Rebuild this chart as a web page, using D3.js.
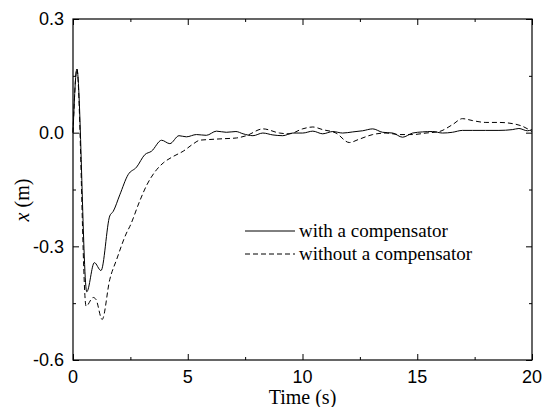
<!DOCTYPE html>
<html>
<head>
<meta charset="utf-8">
<title>x(t) with and without compensator</title>
<script src="https://cdn.jsdelivr.net/npm/d3@7"></script>
<style>
  body { margin: 0; background: #fff; }
  .tick-label { font-family: "Liberation Sans", Arial, sans-serif; font-size: 18px; fill: #000; }
  .title { font-family: "Liberation Serif", "Times New Roman", serif; font-size: 20px; fill: #000; }
  .legend { font-family: "Liberation Serif", "Times New Roman", serif; font-size: 19px; fill: #000; }
</style>
</head>
<body>
<svg id="chart" width="553" height="407"></svg>
<script>
// time (s) and x (m)
var tWith = [0, 0.17, 0.6, 0.93, 1.22, 1.6, 1.75, 2.04, 2.4, 2.77, 3.13, 3.42, 3.86, 4.22, 4.62, 4.94, 5.38, 5.81, 6.25, 6.68, 7.1, 7.41, 7.84, 8.27, 8.71, 9.14, 9.58, 10.01, 10.45, 10.88, 11.32, 11.75, 12.19, 12.62, 13.06, 13.49, 13.93, 14.36, 14.8, 15.23, 15.67, 16.1, 16.53, 16.97, 17.4, 17.98, 18.56, 19.14, 19.43, 19.8, 20];
var xWith = [0, 0.168, -0.42, -0.343, -0.364, -0.22, -0.208, -0.164, -0.111, -0.091, -0.058, -0.049, -0.020, -0.029, -0.008, -0.011, -0.005, -0.007, 0.004, 0.001, 0.003, -0.003, -0.008, -0.001, -0.006, -0.008, -0.001, -0.001, 0.004, -0.003, 0.003, -0.001, 0.002, 0.005, 0.010, 0.001, -0.001, -0.012, -0.001, 0.002, 0.003, -0.001, 0.001, 0.006, 0.006, 0.006, 0.006, 0.008, 0.011, 0.005, 0.008];

var tWithout = [0, 0.17, 0.57, 0.88, 1.0, 1.27, 1.6, 1.9, 2.33, 2.48, 2.91, 3.2, 3.64, 3.93, 4.36, 4.8, 5.23, 5.52, 5.96, 6.54, 7.12, 7.55, 8.28, 9.0, 9.43, 10.0, 10.45, 10.88, 11.46, 12.04, 12.48, 13.06, 13.64, 14.22, 14.8, 15.38, 15.96, 16.53, 16.97, 17.4, 17.99, 18.57, 19.14, 19.58, 20];
var xWithout = [0, 0.168, -0.458, -0.435, -0.44, -0.493, -0.388, -0.335, -0.265, -0.247, -0.18, -0.14, -0.098, -0.080, -0.063, -0.049, -0.030, -0.020, -0.018, -0.016, -0.014, -0.008, 0.010, -0.001, -0.003, 0.010, 0.015, 0.008, -0.001, -0.026, -0.017, -0.005, -0.001, -0.005, -0.005, -0.001, 0.003, 0.021, 0.037, 0.032, 0.027, 0.027, 0.024, 0.017, 0.003];

var xTicks = [0, 5, 10, 15, 20];
var xMinor = [2.5, 7.5, 12.5, 17.5];
var yTicks = [-0.6, -0.3, 0.0, 0.3];
var yMinor = [-0.45, -0.15, 0.15];
var seriesNames = ["with a compensator", "without a compensator"];

var plotL = 73, plotR = 532, plotT = 19, plotB = 360;

var svg = d3.select("#chart");

var x = d3.scaleLinear().domain([0, 20]).range([plotL, plotR]);
var y = d3.scaleLinear().domain([-0.6, 0.3]).range([plotB, plotT]);

function styleAxis(g) {
  g.select(".domain").remove();
  g.selectAll("line").attr("stroke", "#000").attr("stroke-width", 1);
}

// ticks point inward on all four sides, major and minor
function addTicks(major, minor, len) {
  var vals = major ? [xTicks, yTicks] : [xMinor, yMinor];
  svg.append("g").attr("transform", "translate(0," + plotB + ")")
     .call(d3.axisBottom(x).tickValues(vals[0]).tickSize(-len).tickFormat("")).call(styleAxis);
  svg.append("g").attr("transform", "translate(0," + plotT + ")")
     .call(d3.axisTop(x).tickValues(vals[0]).tickSize(-len).tickFormat("")).call(styleAxis);
  svg.append("g").attr("transform", "translate(" + plotL + ",0)")
     .call(d3.axisLeft(y).tickValues(vals[1]).tickSize(-len).tickFormat("")).call(styleAxis);
  svg.append("g").attr("transform", "translate(" + plotR + ",0)")
     .call(d3.axisRight(y).tickValues(vals[1]).tickSize(-len).tickFormat("")).call(styleAxis);
}
addTicks(true, false, 6);
addTicks(false, true, 3);

// frame
svg.append("rect")
   .attr("x", plotL).attr("y", plotT)
   .attr("width", plotR - plotL).attr("height", plotB - plotT)
   .attr("fill", "none").attr("stroke", "#000").attr("stroke-width", 1.2);

// tick labels
svg.selectAll(".xl").data(xTicks).enter().append("text")
   .attr("class", "tick-label")
   .attr("x", function(d) { return x(d); })
   .attr("y", 383)
   .attr("text-anchor", "middle")
   .text(function(d) { return d; });

svg.selectAll(".yl").data(yTicks).enter().append("text")
   .attr("class", "tick-label")
   .attr("x", 64)
   .attr("y", function(d) { return y(d); })
   .attr("dy", "0.35em")
   .attr("text-anchor", "end")
   .text(function(d) { return d3.format(".1f")(d).replace("\u2212", "-"); });

// axis titles
svg.append("text").attr("class", "title")
   .attr("x", (plotL + plotR) / 2).attr("y", 404)
   .attr("text-anchor", "middle")
   .text("Time (s)");

var yt = svg.append("text").attr("class", "title")
   .attr("transform", "translate(29,200) rotate(-90)")
   .attr("text-anchor", "middle");
yt.append("tspan").attr("font-style", "italic").text("x");
yt.append("tspan").text(" (m)");

// curves
var lineWith = d3.line()
   .x(function(d, i) { return x(tWith[i]); })
   .y(function(d) { return y(d); })
   .curve(d3.curveMonotoneX);
var lineWithout = d3.line()
   .x(function(d, i) { return x(tWithout[i]); })
   .y(function(d) { return y(d); })
   .curve(d3.curveMonotoneX);

svg.append("path").datum(xWithout)
   .attr("d", lineWithout)
   .attr("fill", "none").attr("stroke", "#000").attr("stroke-width", 1)
   .attr("stroke-dasharray", "5,3");

svg.append("path").datum(xWith)
   .attr("d", lineWith)
   .attr("fill", "none").attr("stroke", "#000").attr("stroke-width", 1);

// legend
var legendRows = svg.selectAll(".lg").data(seriesNames).enter().append("g")
   .attr("transform", function(d, i) { return "translate(245," + (231 + i * 23) + ")"; });

legendRows.append("line")
   .attr("x1", 0).attr("x2", 50).attr("y1", 0).attr("y2", 0)
   .attr("stroke", "#000").attr("stroke-width", 1)
   .attr("stroke-dasharray", function(d, i) { return i == 1 ? "5,3" : null; });

legendRows.append("text")
   .attr("class", "legend")
   .attr("x", 54).attr("y", 0).attr("dy", "0.32em")
   .text(function(d) { return d; });
</script>
</body>
</html>
